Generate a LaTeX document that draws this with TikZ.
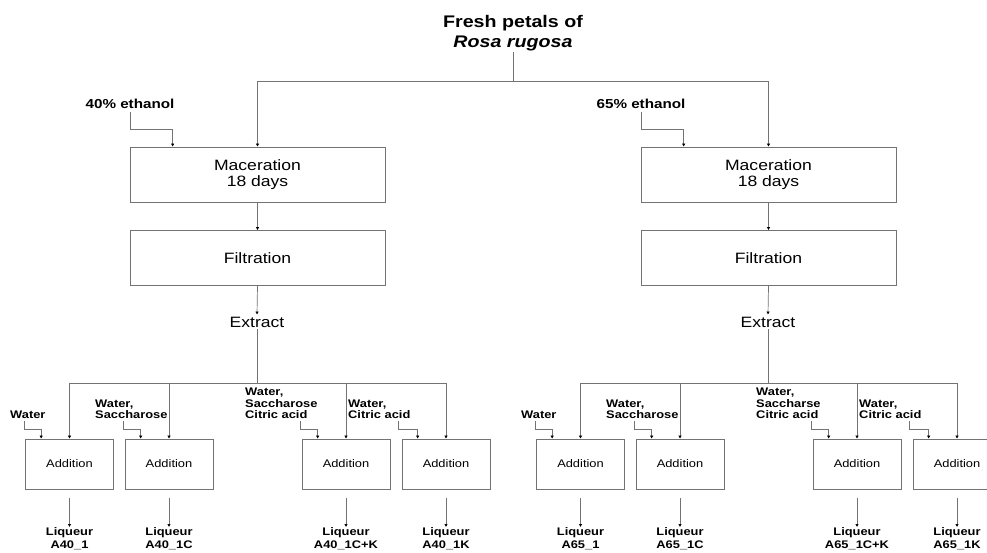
\documentclass[tikz,border=0pt]{standalone}
\usepackage{fontspec}
\setmainfont{Liberation Sans}[FakeStretch=1.17]
\usetikzlibrary{arrows.meta,calc}
\definecolor{linegray}{gray}{0.45}
\tikzset{
  stepbox/.style={draw=linegray, line width=0.7pt, minimum width=255pt, minimum height=55pt,
    inner sep=0pt, align=center, font=\fontsize{15}{16.5}\selectfont},
  addbox/.style={draw=linegray, line width=0.7pt, minimum width=88pt, minimum height=50pt,
    inner sep=0pt, font=\fontsize{11}{13}\selectfont},
  feedlabel/.style={inner sep=0pt, anchor=south west, align=left, font=\fontsize{11}{11.5}\selectfont\bfseries},
  prodlabel/.style={inner sep=0pt, anchor=north, align=center, font=\fontsize{11}{13.5}\selectfont\bfseries},
  ethlabel/.style={inner sep=3pt, font=\fontsize{13}{15}\selectfont\bfseries},
  line/.style={draw=linegray, line width=0.7pt},
  flow/.style={line, -{Latex[length=3pt,width=3.5pt,color=black]}},
}
\begin{document}
\begin{tikzpicture}[x=1pt,y=-1pt]
  \useasboundingbox (0,0) rectangle (987,552);
  % source
  \node[inner sep=1pt, align=center, font=\fontsize{16.8}{20}\selectfont\bfseries] (fresh) at (513,33)
       {Fresh petals of\\\textit{Rosa rugosa}};
  \coordinate (split) at (513,81);
  \draw[line] (fresh.south) -- (split);

  % ---- 40% branch
  \node[ethlabel] (eth40) at (130,104) {40\% ethanol};
  \node[stepbox] (mac40) at (257.5,174.5) {Maceration\\18 days};
  \node[stepbox] (filt40) at (257.5,258) {Filtration};
  \node[inner sep=2pt, font=\fontsize{15}{17}\selectfont] (ext40) at (257,322) {Extract};
  \coordinate (bus40) at (257,383);
  \draw[flow] (split) -| (mac40.north);
  \draw[flow] (eth40.south) |- ([xshift=43pt,yshift=17pt]mac40.north west) -- ([xshift=43pt]mac40.north west);
  \draw[flow] (mac40.south) -- (filt40.north);
  \draw[flow] (filt40.south) -- (ext40.north);
  \draw[line] (ext40.south) -- (bus40);

  \node[addbox] (a40a) at (69.5,464) {Addition};
  \node[addbox] (a40b) at (169,464) {Addition};
  \node[addbox] (a40c) at (346,464) {Addition};
  \node[addbox] (a40d) at (446,464) {Addition};
  \node[feedlabel] (w40a) at (10,419) {Water};
  \node[feedlabel] (w40b) at (95,419) {Water,\\Saccharose};
  \node[feedlabel] (w40c) at (245,419) {Water,\\Saccharose\\Citric acid};
  \node[feedlabel] (w40d) at (348,419) {Water,\\Citric acid};
  \coordinate (f40a) at (24,421);
  \coordinate (f40b) at (123,421);
  \coordinate (f40c) at (300,421);
  \coordinate (f40d) at (398,421);
  \foreach \b in {a,b,c,d}{
    \draw[flow] (bus40) -| (a40\b.north);
    \draw[flow] (f40\b) |- ([xshift=16pt,yshift=9pt]a40\b.north west) -- ([xshift=16pt]a40\b.north west);
  }
  \node[prodlabel] (liq40a) at (69.5,527) {Liqueur\\A40\_1};
  \node[prodlabel] (liq40b) at (169,527) {Liqueur\\A40\_1C};
  \node[prodlabel] (liq40c) at (346,527) {Liqueur\\A40\_1C+K};
  \node[prodlabel] (liq40d) at (446,527) {Liqueur\\A40\_1K};
  \foreach \b in {a,b,c,d}
    \draw[flow] ([yshift=-9pt]a40\b.south) -- (liq40\b.north);

  % ---- 65% branch
  \node[ethlabel] (eth65) at (641,104) {65\% ethanol};
  \node[stepbox] (mac65) at (768.5,174.5) {Maceration\\18 days};
  \node[stepbox] (filt65) at (768.5,258) {Filtration};
  \node[inner sep=2pt, font=\fontsize{15}{17}\selectfont] (ext65) at (768,322) {Extract};
  \coordinate (bus65) at (768,383);
  \draw[flow] (split) -| (mac65.north);
  \draw[flow] (eth65.south) |- ([xshift=43pt,yshift=17pt]mac65.north west) -- ([xshift=43pt]mac65.north west);
  \draw[flow] (mac65.south) -- (filt65.north);
  \draw[flow] (filt65.south) -- (ext65.north);
  \draw[line] (ext65.south) -- (bus65);

  \node[addbox] (a65a) at (580.5,464) {Addition};
  \node[addbox] (a65b) at (680,464) {Addition};
  \node[addbox] (a65c) at (857,464) {Addition};
  \node[addbox] (a65d) at (957,464) {Addition};
  \node[feedlabel] (w65a) at (521,419) {Water};
  \node[feedlabel] (w65b) at (606,419) {Water,\\Saccharose};
  \node[feedlabel] (w65c) at (756,419) {Water,\\Saccharse\\Citric acid};
  \node[feedlabel] (w65d) at (859,419) {Water,\\Citric acid};
  \coordinate (f65a) at (535,421);
  \coordinate (f65b) at (634,421);
  \coordinate (f65c) at (811,421);
  \coordinate (f65d) at (909,421);
  \foreach \b in {a,b,c,d}{
    \draw[flow] (bus65) -| (a65\b.north);
    \draw[flow] (f65\b) |- ([xshift=16pt,yshift=9pt]a65\b.north west) -- ([xshift=16pt]a65\b.north west);
  }
  \node[prodlabel] (liq65a) at (580.5,527) {Liqueur\\A65\_1};
  \node[prodlabel] (liq65b) at (680,527) {Liqueur\\A65\_1C};
  \node[prodlabel] (liq65c) at (857,527) {Liqueur\\A65\_1C+K};
  \node[prodlabel] (liq65d) at (957,527) {Liqueur\\A65\_1K};
  \foreach \b in {a,b,c,d}
    \draw[flow] ([yshift=-9pt]a65\b.south) -- (liq65\b.north);
\end{tikzpicture}
\end{document}
